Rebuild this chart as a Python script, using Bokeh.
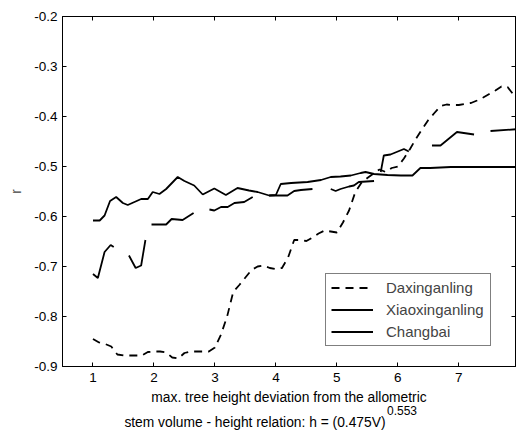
from bokeh.plotting import figure
from bokeh.models import Range1d, LinearAxis, Legend, LegendItem, FixedTicker, CustomJSTickFormatter
from bokeh.layouts import column
from bokeh.core.properties import value
from bokeh.embed import file_html
from bokeh.resources import INLINE

nan = float("nan")

# Daxinganling (dashed)
dax_x = [1.0, 1.1, 1.2, 1.3, 1.4, 1.5, 1.6, 1.7, 1.8, 1.9,
         2.0, 2.1, 2.2, 2.3, 2.4, 2.5, 2.6, 2.7, 2.8, 2.9,
         3.0, 3.1, 3.2, 3.3, 3.4, 3.5, 3.6, 3.7, 3.8, 3.9,
         4.0, 4.1, 4.2, 4.3, 4.4, 4.5, 4.6, 4.7, 4.8, 4.9,
         5.0, 5.1, 5.2, 5.3, 5.4, 5.5, 5.6, 5.7, 5.8, 5.9,
         6.0, 6.1, 6.2, 6.3, 6.4, 6.5, 6.6, 6.7, 6.8, 6.9,
         7.0, 7.1, 7.2, 7.3, 7.4, 7.5, 7.6, 7.7, 7.8, 7.9, 8.0]
dax_r = [-0.845, -0.852, -0.855, -0.860, -0.876, -0.878, -0.878, -0.878, -0.878, -0.871,
         -0.870, -0.870, -0.872, -0.882, -0.884, -0.873, -0.870, -0.870, -0.870, -0.870,
         -0.862, -0.836, -0.800, -0.751, -0.737, -0.722, -0.707, -0.700, -0.698, -0.703,
         -0.705, -0.703, -0.682, -0.647, -0.647, -0.649, -0.642, -0.634, -0.628, -0.630,
         -0.632, -0.612, -0.588, -0.552, -0.533, -0.523, -0.514, -0.506, -0.511, -0.503,
         -0.500, -0.484, -0.465, -0.444, -0.425, -0.407, -0.393, -0.379, -0.376, -0.377,
         -0.377, -0.375, -0.373, -0.368, -0.362, -0.355, -0.348, -0.340, -0.341, -0.357, -0.345]

# Xiaoxinganling (solid, with gaps)
xiao_x = [1.00, 1.08, 1.19, 1.29, 1.34, nan,
          1.59, 1.70, 1.79, 1.86, nan,
          1.96, 2.20, 2.29, 2.47, 2.65, nan,
          2.91, 2.99, 3.10, 3.21, 3.32, 3.48, 3.62, nan,
          3.89, 4.19, 4.30, 4.41, 4.60, nan,
          4.90, 4.98, 5.06, 5.20, 5.28, 5.36, 5.61, nan,
          5.72, 5.77, 5.88, 6.10, 6.18, nan,
          6.56, 6.70, 6.97, 7.25, nan,
          7.52, 8.00]
xiao_r = [-0.715, -0.723, -0.671, -0.657, -0.661, nan,
          -0.678, -0.703, -0.698, -0.647, nan,
          -0.616, -0.616, -0.605, -0.607, -0.593, nan,
          -0.586, -0.588, -0.581, -0.581, -0.573, -0.571, -0.561, nan,
          -0.558, -0.558, -0.549, -0.547, -0.545, nan,
          -0.545, -0.549, -0.545, -0.540, -0.538, -0.531, -0.529, nan,
          -0.511, -0.478, -0.476, -0.465, -0.470, nan,
          -0.458, -0.458, -0.431, -0.436, nan,
          -0.429, -0.425]

# Changbai (solid)
chang_x = [1.00, 1.11, 1.19, 1.28, 1.38, 1.49, 1.57, 1.79, 1.90, 1.98,
           2.09, 2.20, 2.39, 2.50, 2.66, 2.80, 2.99, 3.18, 3.37, 3.56,
           3.70, 3.89, 4.00, 4.08, 4.25, 4.52, 4.74, 4.90, 5.06, 5.23,
           5.39, 5.47, 5.61, 5.83, 6.05, 6.24, 6.37, 6.53, 6.87, 8.00]
chang_r = [-0.608, -0.608, -0.598, -0.569, -0.561, -0.573, -0.577, -0.565, -0.565, -0.551,
           -0.555, -0.545, -0.521, -0.529, -0.538, -0.556, -0.544, -0.557, -0.543, -0.548,
           -0.551, -0.558, -0.557, -0.535, -0.533, -0.531, -0.527, -0.521, -0.520, -0.518,
           -0.513, -0.511, -0.515, -0.517, -0.518, -0.518, -0.503, -0.503, -0.501, -0.501]

x_ticks = [1, 2, 3, 4, 5, 6, 7]
y_ticks = [-0.9, -0.8, -0.7, -0.6, -0.5, -0.4, -0.3, -0.2]
y_tick_labels = ["-0.9", "-0.8", "-0.7", "-0.6", "-0.5", "-0.4", "-0.3", "-0.2"]

x_label_line1 = "max. tree height deviation from the allometric"
x_label_line2 = "stem volume - height relation: h = (0.475V)"
x_label_exp = "0.553"

FONT = "Liberation Sans"
TICK_FS = "13.5px"
LAB_FS = "13.8px"

W = 516
H_MAIN = 390
H_TXT = 48
BL, BR = 62, 1

p = figure(width=W, height=H_MAIN, output_backend="svg", toolbar_location=None,
           x_range=Range1d(0.5, 7.93), y_range=Range1d(-0.9, -0.2),
           min_border_left=BL, min_border_right=BR, min_border_top=16, min_border_bottom=24)
p.background_fill_color = "white"
p.border_fill_color = "white"
p.grid.visible = False
p.outline_line_color = "black"
p.outline_line_width = 1

r_dax = p.line(dax_x, dax_r, line_color="black", line_width=1.8, line_dash="8 6")
r_xiao = p.line(xiao_x, xiao_r, line_color="black", line_width=1.8)
r_chang = p.line(chang_x, chang_r, line_color="black", line_width=1.8)

def style(ax):
    ax.major_tick_in = 4
    ax.major_tick_out = 0
    ax.minor_tick_line_color = None
    ax.axis_line_color = "black"
    ax.major_tick_line_color = "black"
    ax.major_label_text_font = FONT
    ax.major_label_text_font_size = TICK_FS
    ax.major_label_text_color = "black"

p.xaxis.ticker = FixedTicker(ticks=x_ticks)
p.yaxis.ticker = FixedTicker(ticks=y_ticks)
style(p.xaxis[0])
style(p.yaxis[0])
p.yaxis.major_label_overrides = dict(zip(y_ticks, y_tick_labels))
p.xaxis.major_label_standoff = 6
p.yaxis.major_label_standoff = 5
p.yaxis.axis_label = "r"
p.yaxis.axis_label_text_font = FONT
p.yaxis.axis_label_text_font_size = LAB_FS
p.yaxis.axis_label_text_font_style = "normal"
p.yaxis.axis_label_standoff = 7

blank = CustomJSTickFormatter(code="return ''")
ax_top = LinearAxis(ticker=FixedTicker(ticks=x_ticks), formatter=blank)
style(ax_top)
ax_top.major_label_standoff = 0
ax_top.major_label_text_color = None
p.add_layout(ax_top, "above")
ax_right = LinearAxis(ticker=FixedTicker(ticks=y_ticks), formatter=blank)
style(ax_right)
ax_right.major_label_standoff = 0
ax_right.major_label_text_color = None
p.add_layout(ax_right, "right")

legend = Legend(items=[LegendItem(label="Daxinganling", renderers=[r_dax]),
                       LegendItem(label="Xiaoxinganling", renderers=[r_xiao]),
                       LegendItem(label="Changbai", renderers=[r_chang])],
                location=(263, 20))
legend.label_text_font = FONT
legend.label_text_font_size = "15px"
legend.glyph_width = 42
legend.glyph_height = 17
legend.label_height = 17
legend.label_width = 99
legend.label_standoff = 13
legend.spacing = 5
legend.padding = 5
legend.margin = 0
legend.border_line_color = "black"
legend.border_line_width = 1
legend.background_fill_alpha = 1
p.add_layout(legend, "center")

# x-axis title strip (two lines, with superscript exponent); x in page pixels
q = figure(width=W, height=H_TXT, output_backend="svg", toolbar_location=None,
           x_range=Range1d(BL, W - BR), y_range=Range1d(H_TXT, 0),
           min_border_left=BL, min_border_right=BR, min_border_top=0, min_border_bottom=0)
q.axis.visible = False
q.grid.visible = False
q.outline_line_color = None
q.background_fill_color = "white"
q.border_fill_color = "white"
q.text(x=[288.5], y=[7], text=[x_label_line1], text_font=value(FONT),
       text_font_size=LAB_FS, text_align="center", text_baseline="middle", text_color="black")
q.text(x=[385], y=[32], text=[x_label_line2], text_font=value(FONT),
       text_font_size=LAB_FS, text_align="right", text_baseline="middle", text_color="black")
q.text(x=[386.5], y=[20], text=[x_label_exp], text_font=value(FONT),
       text_font_size="12px", text_align="left", text_baseline="middle", text_color="black")

layout = column(p, q, spacing=0)
open("out.html", "w").write(file_html(layout, INLINE))
